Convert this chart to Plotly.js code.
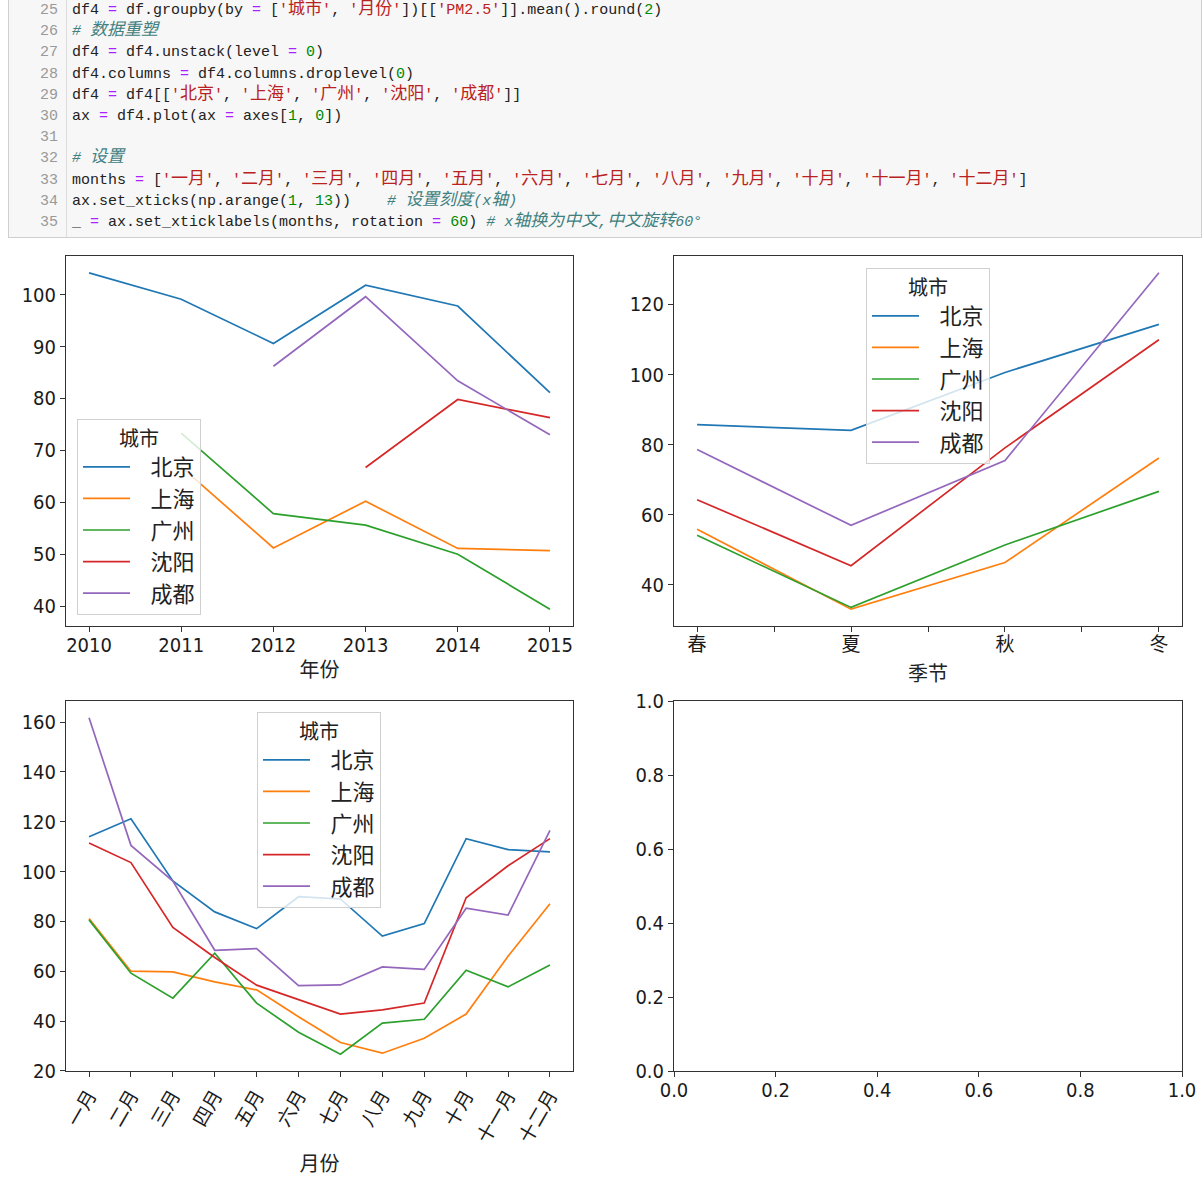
<!DOCTYPE html>
<html>
<head>
<meta charset="utf-8">
<script src="https://cdn.plot.ly/plotly-3.0.1.min.js"></script>
<style>
  html, body { margin:0; padding:0; background:#fff; width:1203px; height:1177px; overflow:hidden; }
  #cell { position:absolute; left:8px; top:-1px; width:1194px; height:239px; background:#f7f7f7;
          border:1px solid #cfcfcf; border-top:none; box-sizing:border-box; overflow:hidden; z-index:2; }
  #gutter { position:absolute; left:0; top:1px; width:57px; height:245px; border-right:1px solid #dddddd;
            font-family:"Liberation Mono", monospace; font-size:15px; color:#999; text-align:right; }
  #gutter > div { padding-right:8px; height:21.2px; line-height:21.2px; }
  #code { position:absolute; left:63px; top:1px; font-family:"Liberation Mono", "Noto Sans CJK SC", monospace;
          font-size:15px; color:#222; white-space:pre; }
  #code > div { height:21.2px; line-height:21.2px; overflow:visible; }
  .k { font-family:"Noto Sans CJK SC", sans-serif; font-size:17px; line-height:0; }
  .o { color:#aa22ff; }
  .s { color:#ba2121; }
  .n { color:#008800; }
  .c { color:#408080; font-style:italic; }
  #plot { position:absolute; left:0; top:0; width:1203px; height:1177px; z-index:1; }
</style>
</head>
<body>
<div id="cell"><div id="gutter"></div><div id="code"></div></div>
<div id="plot"></div>
<script>
// ---------------- data ----------------
const cities = ['北京', '上海', '广州', '沈阳', '成都'];
const colors = ['#1f77b4', '#ff7f0e', '#2ca02c', '#d62728', '#9467bd'];

const years = [2010, 2011, 2012, 2013, 2014, 2015];
const yearBJ = [104.2, 99.1, 90.6, 101.8, 97.8, 81.1];
const yearSH = [null, 66.8, 51.2, 60.2, 51.1, 50.7];
const yearGZ = [null, 73.3, 57.8, 55.6, 50.0, 39.4];
const yearSY = [null, null, null, 66.7, 79.8, 76.3];
const yearCD = [null, null, 86.2, 99.6, 83.4, 73.0];

const seasons = ['春', '夏', '秋', '冬'];
const seasonBJ = [85.7, 84.1, 100.6, 114.3];
const seasonSH = [55.9, 33.1, 46.4, 76.2];
const seasonGZ = [54.2, 33.6, 51.4, 66.7];
const seasonSY = [64.3, 45.5, 79.1, 109.9];
const seasonCD = [78.6, 57.0, 75.5, 129.0];

const monthNums = [1, 2, 3, 4, 5, 6, 7, 8, 9, 10, 11, 12];
const months = ['一月', '二月', '三月', '四月', '五月', '六月', '七月', '八月', '九月', '十月', '十一月', '十二月'];
const monthBJ = [114.0, 121.2, 96.2, 83.8, 77.1, 89.9, 89.0, 74.1, 79.1, 113.2, 108.8, 107.9];
const monthSH = [81.1, 60.0, 59.7, 55.7, 52.5, 41.7, 31.4, 27.1, 33.1, 42.8, 66.0, 87.1];
const monthGZ = [80.6, 59.2, 49.2, 67.2, 47.2, 35.5, 26.7, 39.2, 40.7, 60.4, 53.7, 62.5];
const monthSY = [111.5, 103.6, 77.6, 65.5, 54.4, 48.5, 42.8, 44.5, 47.2, 89.5, 102.3, 113.2];
const monthCD = [161.7, 110.5, 96.2, 68.4, 69.1, 54.2, 54.5, 61.7, 60.7, 85.3, 82.5, 116.5];

const emptyTicks = [0, 0.2, 0.4, 0.6, 0.8, 1.0];

// ---------------- code cell text ----------------
const codeLines = [
  "df4 <o>=</o> df.groupby(by <o>=</o> [<s>'城市'</s>, <s>'月份'</s>])[[<s>'PM2.5'</s>]].mean().round(<n>2</n>)",
  "<c># 数据重塑</c>",
  "df4 <o>=</o> df4.unstack(level <o>=</o> <n>0</n>)",
  "df4.columns <o>=</o> df4.columns.droplevel(<n>0</n>)",
  "df4 <o>=</o> df4[[<s>'北京'</s>, <s>'上海'</s>, <s>'广州'</s>, <s>'沈阳'</s>, <s>'成都'</s>]]",
  "ax <o>=</o> df4.plot(ax <o>=</o> axes[<n>1</n>, <n>0</n>])",
  "",
  "<c># 设置</c>",
  "months <o>=</o> [" + months.map(m => "<s>'" + m + "'</s>").join(', ') + "]",
  "ax.set_xticks(np.arange(<n>1</n>, <n>13</n>))    <c># 设置刻度(x轴)</c>",
  "_ <o>=</o> ax.set_xticklabels(months, rotation <o>=</o> <n>60</n>) <c># x轴换为中文,中文旋转60°</c>"
];
const firstLineNo = 25;
function fmt(line) {
  return line
    .replace(/<o>/g, '<span class="o">').replace(/<\/o>/g, '</span>')
    .replace(/<s>/g, '<span class="s">').replace(/<\/s>/g, '</span>')
    .replace(/<n>/g, '<span class="n">').replace(/<\/n>/g, '</span>')
    .replace(/<c>/g, '<span class="c">').replace(/<\/c>/g, '</span>')
    .replace(/([\u3000-\u9fff\uff00-\uffef]+)/g, '<span class="k">$1</span>');
}
document.getElementById('code').innerHTML = codeLines.map(l => '<div>' + (fmt(l) || '&nbsp;') + '</div>').join('');
document.getElementById('gutter').innerHTML = codeLines.map((l, i) => '<div>' + (firstLineNo + i) + '</div>').join('');

// ---------------- chart ----------------
const W = 1203, H = 1177;
const xd = (a, b) => [a / W, b / W];
const yd = (top, bottom) => [1 - bottom / H, 1 - top / H];

const NUM = '"Liberation Sans Narrow", "DejaVu Sans Condensed", "Noto Sans CJK SC", sans-serif';
const CJK = '"Noto Sans CJK SC", sans-serif';
const PAD = '\u2002\u2009';

const traces = [];
function addSet(xs, series, xa, ya, leg) {
  series.forEach((ys, i) => {
    traces.push({
      type: 'scatter', mode: 'lines', x: xs, y: ys, name: PAD + cities[i],
      xaxis: xa, yaxis: ya, legend: leg,
      line: { color: colors[i], width: 1.7 },
      connectgaps: false, hoverinfo: 'skip'
    });
  });
}
addSet(years, [yearBJ, yearSH, yearGZ, yearSY, yearCD], 'x', 'y', 'legend');
addSet(seasons.map((s, i) => i), [seasonBJ, seasonSH, seasonGZ, seasonSY, seasonCD], 'x2', 'y2', 'legend2');
addSet(monthNums, [monthBJ, monthSH, monthGZ, monthSY, monthCD], 'x3', 'y3', 'legend3');
// empty fourth subplot (no data, only the axes)
traces.push({ type: 'scatter', mode: 'lines', x: [null], y: [null], xaxis: 'x4', yaxis: 'y4',
              showlegend: false, hoverinfo: 'skip' });

function ax(extra) {
  return Object.assign({
    showline: true, mirror: true, linecolor: '#333', linewidth: 1,
    ticks: 'outside', ticklen: 5, tickwidth: 1, tickcolor: '#333',
    showgrid: false, zeroline: false, fixedrange: true,
    tickfont: { family: NUM, size: 20, color: '#1a1a1a' }
  }, extra);
}
function leg(x, y) {
  return {
    x: x / W, y: 1 - y / H, xanchor: 'left', yanchor: 'top', xref: 'paper', yref: 'paper',
    bgcolor: 'rgba(255,255,255,0.8)', bordercolor: '#d0d0d0', borderwidth: 1,
    font: { family: CJK, size: 22, color: '#222' },
    title: { text: '城市', side: 'top center', font: { family: CJK, size: 20, color: '#222' } },
    itemwidth: 47, tracegroupgap: 0
  };
}
const titleFont = { family: CJK, size: 20, color: '#222' };

const layout = {
  width: W, height: H, margin: { l: 0, r: 0, t: 0, b: 0 },
  paper_bgcolor: 'rgba(0,0,0,0)', plot_bgcolor: '#ffffff',
  showlegend: true,
  xaxis: ax({ domain: xd(66, 573), anchor: 'y', range: [2009.75, 2015.25], tickvals: years,
              ticklabelstandoff: -4,
              title: { text: '年份', font: titleFont, standoff: 6 } }),
  yaxis: ax({ domain: yd(256, 626), anchor: 'x', range: [36.16, 107.44], tick0: 0, dtick: 10 }),
  xaxis2: ax({ domain: xd(674, 1182), anchor: 'y2', range: [-0.15, 3.15],
               tickvals: [0, 0.5, 1, 1.5, 2, 2.5, 3], ticktext: ['春', '', '夏', '', '秋', '', '冬'],
               ticklabelstandoff: -4,
               tickfont: { family: CJK, size: 19, color: '#1a1a1a' },
               title: { text: '季节', font: titleFont, standoff: 12 } }),
  yaxis2: ax({ domain: yd(256, 626), anchor: 'x2', range: [28.3, 133.8], tick0: 0, dtick: 20 }),
  xaxis3: ax({ domain: xd(66, 573), anchor: 'y3', range: [0.45, 12.55], tickvals: monthNums, ticktext: months,
               tickangle: -60, tickfont: { family: CJK, size: 19, color: '#1a1a1a' },
               title: { text: '月份', font: titleFont, standoff: 14 } }),
  yaxis3: ax({ domain: yd(701, 1071), anchor: 'x3', range: [19.95, 168.45], tick0: 0, dtick: 20 }),
  xaxis4: ax({ domain: xd(674, 1182), anchor: 'y4', range: [0, 1], tickvals: emptyTicks, tickformat: '.1f',
               ticklabelstandoff: -4 }),
  yaxis4: ax({ domain: yd(701, 1071), anchor: 'x4', range: [0, 1], tickvals: emptyTicks, tickformat: '.1f' }),
  legend: leg(77, 419),
  legend2: leg(866, 268),
  legend3: leg(257, 712)
};

Plotly.newPlot('plot', traces, layout, { displayModeBar: false, staticPlot: true });
</script>
</body>
</html>
